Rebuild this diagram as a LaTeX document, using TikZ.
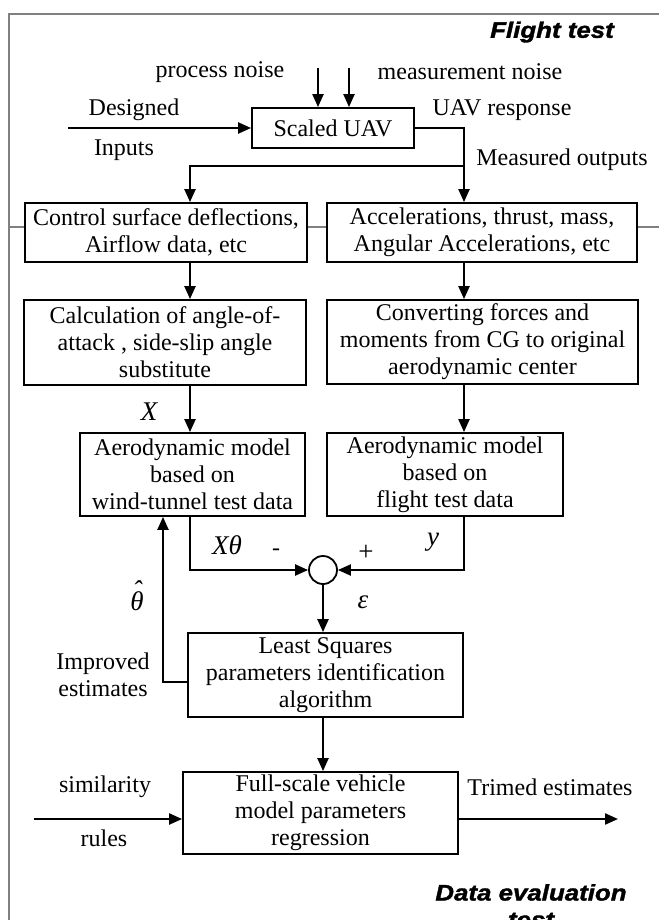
\documentclass[tikz,border=0pt]{standalone}
\usepackage{fontspec}
\setmainfont{Liberation Serif}
\newfontfamily\headfont[FakeStretch=1.15,FakeBold=1.6]{Liberation Sans}
\usetikzlibrary{arrows.meta}
\begin{document}
\begin{tikzpicture}[x=1pt,y=-1pt,
 box/.style={draw, fill=white, line width=1.8pt, align=center, inner sep=0pt, font=\fontsize{24}{27}\selectfont},
 lbl/.style={font=\fontsize{24}{27}\selectfont, inner sep=0pt},
 mlbl/.style={font=\fontsize{27}{27}\selectfont\itshape, inner sep=0pt},
 head/.style={font=\headfont\bfseries\itshape\fontsize{22.5}{27}\selectfont, inner sep=0pt, align=center},
 conn/.style={line width=2.2pt},
 arr/.style={conn, -{Triangle[length=13pt,width=11pt]}},
 frame/.style={line width=2pt, black!50}]
\useasboundingbox (0,0) rectangle (659,920);
% frame
\draw[frame] (9,920) -- (9,14) -- (659,14);
\draw[frame] (9,227) -- (659,227);
% boxes
\node[box, minimum width=162pt, minimum height=40pt] (uav) at (333,128) {Scaled UAV};
\node[box, minimum width=282pt, minimum height=59pt] (ctrl) at (166,232.5) {Control surface deflections,\\Airflow data, etc};
\node[box, minimum width=310pt, minimum height=59pt] (acc) at (482,232.5) {Accelerations, thrust, mass,\\Angular Accelerations, etc};
\node[box, minimum width=282pt, minimum height=85pt] (calc) at (165,342.5) {Calculation of angle-of-\\attack , side-slip angle\\substitute};
\node[box, minimum width=311pt, minimum height=84pt] (conv) at (482.5,342) {Converting forces and\\moments from CG to original\\aerodynamic center};
\node[box, minimum width=225pt, minimum height=83pt] (aerol) at (192.5,474.5) {Aerodynamic model\\based on\\wind-tunnel test data};
\node[box, minimum width=236pt, minimum height=83pt] (aeror) at (445,474.5) {Aerodynamic model\\based on\\flight test data};
\node[draw, fill=white, line width=1.8pt, circle, minimum size=28pt, inner sep=0pt] (sum) at (323,570) {};
\node[box, minimum width=275pt, minimum height=84pt] (ls) at (325.5,675) {Least Squares\\parameters identification\\algorithm};
\node[box, minimum width=275pt, minimum height=82pt] (full) at (320.5,813) {Full-scale vehicle\\model parameters\\regression};
% free coordinates
\coordinate (n1) at (318,68);
\coordinate (n2) at (349,68);
\coordinate (in) at (68,128);
\coordinate (outc) at (464,128);
\coordinate (br) at (464,166);
\coordinate (brl) at (190,166);
\coordinate (sim) at (34,819);
\coordinate (trim) at (618,819);
\coordinate (fb) at (163,682);
% connectors
\draw[arr] (n1) -- (n1 |- uav.north);
\draw[arr] (n2) -- (n2 |- uav.north);
\draw[arr] (in) -- (uav.west |- in);
\draw[arr] (uav.east |- outc) -- (outc) -- (outc |- acc.north);
\draw[arr] (br) -- (brl) -- (brl |- ctrl.north);
\draw[arr] (brl |- ctrl.south) -- (brl |- calc.north);
\draw[arr] (outc |- acc.south) -- (outc |- conv.north);
\draw[arr] (brl |- calc.south) -- (brl |- aerol.north);
\draw[arr] (outc |- conv.south) -- (outc |- aeror.north);
\draw[arr] (brl |- aerol.south) -- (brl |- sum) -- (sum.west);
\draw[arr] (outc |- aeror.south) -- (outc |- sum) -- (sum.east);
\draw[arr] (sum.south) -- (sum.south |- ls.north);
\draw[arr] (ls.west |- fb) -- (fb) -- (fb |- aerol.south);
\draw[arr] (sum.south |- ls.south) -- (sum.south |- full.north);
\draw[arr] (sim) -- (full.west |- sim);
\draw[arr] (full.east |- trim) -- (trim);
% labels
\node[head, anchor=east] (ft) at (614,32) {Flight test};
\node[head, anchor=north] (de) at (531,884) {Data evaluation\\test};
\node[lbl] (pn) at (220,72) {process noise};
\node[lbl] (mn) at (470,72) {measurement noise};
\node[lbl] (des) at (134,110) {Designed};
\node[lbl] (inp) at (124,150) {Inputs};
\node[lbl] (resp) at (502,110) {UAV response};
\node[lbl] (meas) at (562,160) {Measured outputs};
\node[mlbl] (xl) at (149,412) {X};
\node[mlbl] (xt) at (227,545) {Xθ};
\node[lbl] (mi) at (276,552) {-};
\node[lbl, font=\fontsize{27}{27}\selectfont] (pl) at (366,553) {+};
\node[mlbl] (yl) at (433,542) {y};
\node[mlbl] (th) at (137,596) {\shortstack{ˆ\\[-11pt]θ}};
\node[mlbl] (ep) at (363,602) {ε};
\node[lbl, align=center] (imp) at (103,675) {Improved\\estimates};
\node[lbl] (simt) at (105,787) {similarity};
\node[lbl] (rul) at (104,838) {rules};
\node[lbl] (tre) at (550,787) {Trimed estimates};
\end{tikzpicture}
\end{document}
